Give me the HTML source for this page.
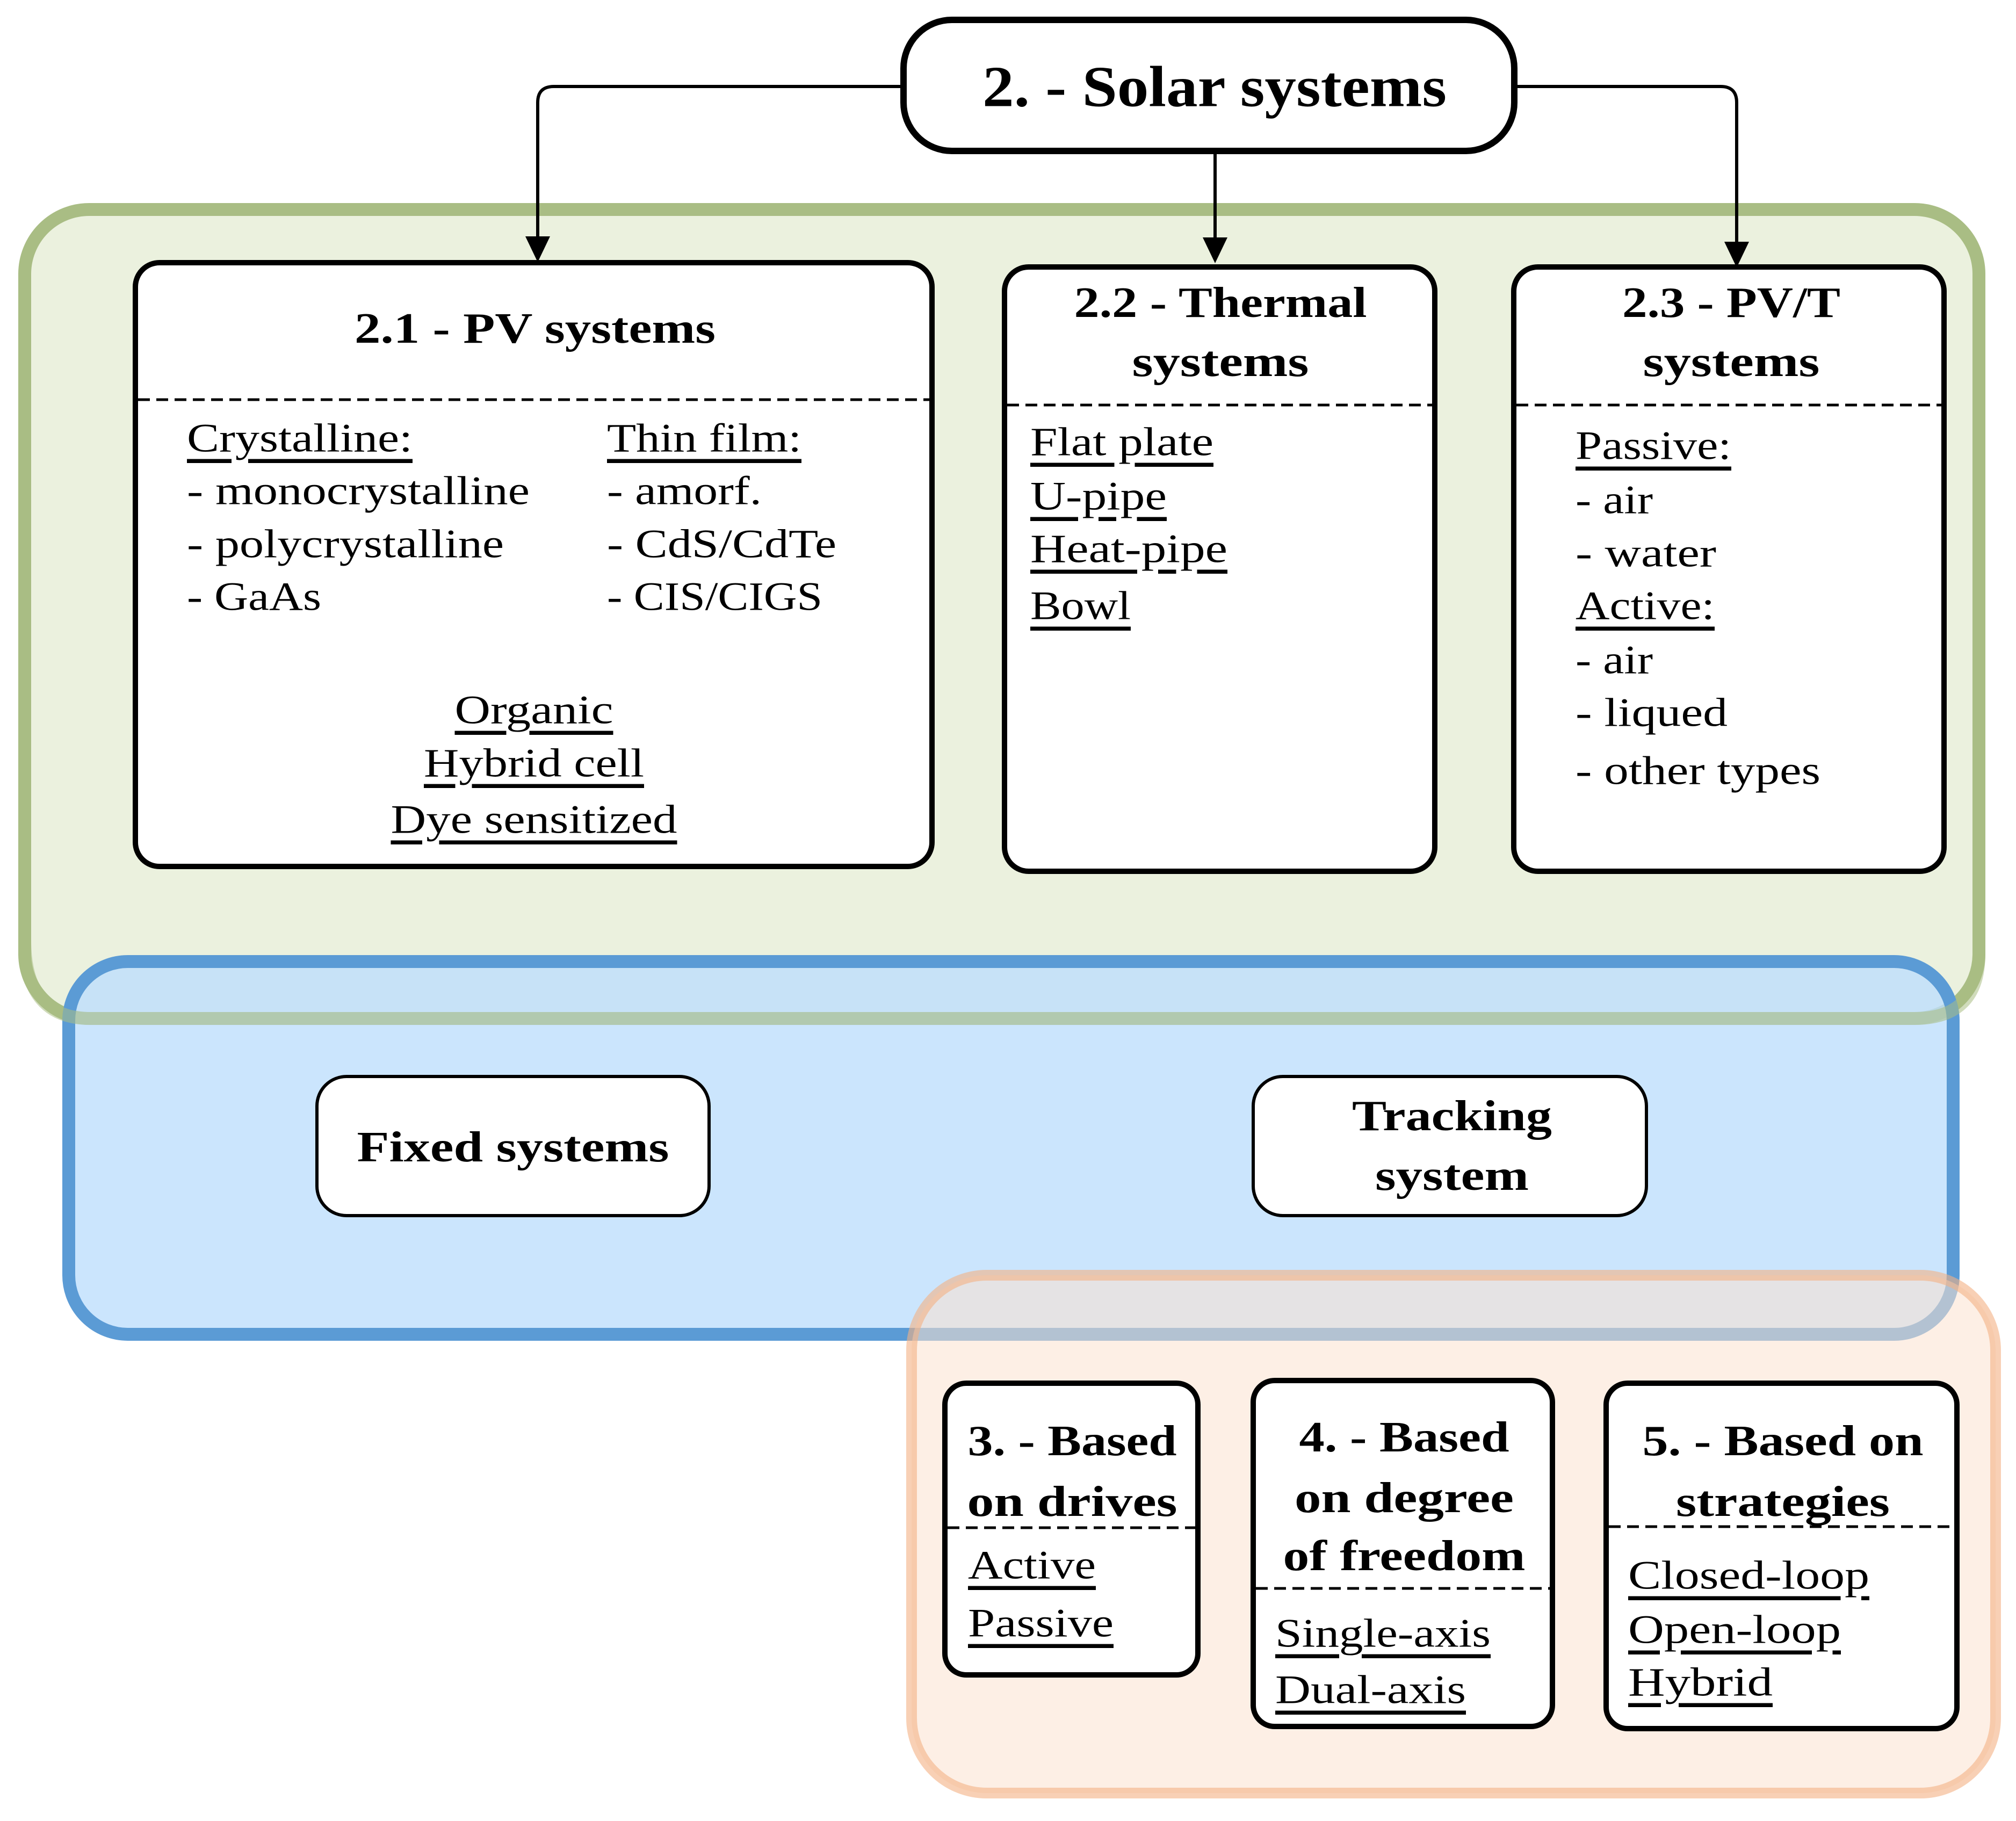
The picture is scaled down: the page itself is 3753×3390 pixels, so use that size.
<!DOCTYPE html>
<html><head><meta charset="utf-8"><style>
html,body{margin:0;padding:0;background:#fff;}
svg{display:block;}
text{font-family:"Liberation Serif",serif;fill:#000;}
.b{font-weight:bold;font-size:80px;}
.t{font-size:75px;}
.u{text-decoration:underline;}
</style></head><body>
<svg width="3753" height="3390" viewBox="0 0 3753 3390" xmlns="http://www.w3.org/2000/svg">
<!-- green container -->
<rect x="46" y="390" width="3638" height="1506" rx="120" fill="#ebf1de" stroke="#a9bd84" stroke-width="24"/>
<!-- blue container -->
<rect x="128" y="1790" width="3508" height="694" rx="110" fill="rgba(190,222,252,0.8)" stroke="#5b9bd5" stroke-width="24"/>
<path d="M46,1750 Q46,1896 168,1896 L3564,1896 Q3684,1896 3684,1776" fill="none" stroke="rgba(169,189,132,0.55)" stroke-width="24"/>
<!-- orange container -->
<rect x="1697" y="2374" width="2018" height="964" rx="140" fill="rgba(251,226,208,0.55)" stroke="rgba(244,177,131,0.6)" stroke-width="20"/>

<!-- connectors -->
<path d="M1676,161 L1031,161 Q1001,161 1001,191 L1001,440" fill="none" stroke="#000" stroke-width="6"/>
<path d="M2825,161 L3203,161 Q3233,161 3233,191 L3233,450" fill="none" stroke="#000" stroke-width="6"/>
<path d="M2262,287 L2262,445" fill="none" stroke="#000" stroke-width="6"/>
<path d="M978,440 L1024,440 L1001,488 Z"/>
<path d="M3210,450 L3256,450 L3233,498 Z"/>
<path d="M2239,442 L2285,442 L2262,490 Z"/>

<!-- title -->
<rect x="1682" y="37" width="1137" height="244" rx="90" fill="#fff" stroke="#000" stroke-width="12"/>
<text x="2261" y="162" font-size="108" font-weight="bold" text-anchor="middle" dominant-baseline="central" textLength="864" lengthAdjust="spacingAndGlyphs">2. - Solar systems</text>

<!-- PV box -->
<rect x="252" y="489" width="1483" height="1124" rx="45" fill="#fff" stroke="#000" stroke-width="10"/>
<text class="b" x="996" y="612" text-anchor="middle" dominant-baseline="central" textLength="672" lengthAdjust="spacingAndGlyphs">2.1 - PV systems</text>
<line x1="257" y1="744" x2="1730" y2="744" stroke="#000" stroke-width="5" stroke-dasharray="22,12"/>
<text class="t u" x="348" y="816" dominant-baseline="central" textLength="420" lengthAdjust="spacingAndGlyphs">Crystalline:</text>
<text class="t" x="348" y="914" dominant-baseline="central" textLength="638" lengthAdjust="spacingAndGlyphs">- monocrystalline</text>
<text class="t" x="348" y="1013" dominant-baseline="central" textLength="590" lengthAdjust="spacingAndGlyphs">- polycrystalline</text>
<text class="t" x="348" y="1111" dominant-baseline="central" textLength="250" lengthAdjust="spacingAndGlyphs">- GaAs</text>
<text class="t u" x="1130" y="816" dominant-baseline="central" textLength="362" lengthAdjust="spacingAndGlyphs">Thin film:</text>
<text class="t" x="1130" y="914" dominant-baseline="central" textLength="288" lengthAdjust="spacingAndGlyphs">- amorf.</text>
<text class="t" x="1130" y="1013" dominant-baseline="central" textLength="427" lengthAdjust="spacingAndGlyphs">- CdS/CdTe</text>
<text class="t" x="1130" y="1111" dominant-baseline="central" textLength="401" lengthAdjust="spacingAndGlyphs">- CIS/CIGS</text>
<text class="t u" x="994" y="1322" text-anchor="middle" dominant-baseline="central" textLength="295" lengthAdjust="spacingAndGlyphs">Organic</text>
<text class="t u" x="994" y="1421" text-anchor="middle" dominant-baseline="central" textLength="410" lengthAdjust="spacingAndGlyphs">Hybrid cell</text>
<text class="t u" x="994" y="1526" text-anchor="middle" dominant-baseline="central" textLength="533" lengthAdjust="spacingAndGlyphs">Dye sensitized</text>

<!-- Thermal box -->
<rect x="1870" y="497" width="801" height="1125" rx="45" fill="#fff" stroke="#000" stroke-width="10"/>
<text class="b" x="2272" y="564" text-anchor="middle" dominant-baseline="central" textLength="545" lengthAdjust="spacingAndGlyphs">2.2 - Thermal</text>
<text class="b" x="2272" y="674" text-anchor="middle" dominant-baseline="central" textLength="329" lengthAdjust="spacingAndGlyphs">systems</text>
<line x1="1875" y1="754" x2="2666" y2="754" stroke="#000" stroke-width="5" stroke-dasharray="22,12"/>
<text class="t u" x="1918" y="823" dominant-baseline="central" textLength="341" lengthAdjust="spacingAndGlyphs">Flat plate</text>
<text class="t u" x="1918" y="924" dominant-baseline="central" textLength="254" lengthAdjust="spacingAndGlyphs">U-pipe</text>
<text class="t u" x="1918" y="1022" dominant-baseline="central" textLength="367" lengthAdjust="spacingAndGlyphs">Heat-pipe</text>
<text class="t u" x="1918" y="1128" dominant-baseline="central" textLength="187" lengthAdjust="spacingAndGlyphs">Bowl</text>

<!-- PV/T box -->
<rect x="2818" y="497" width="801" height="1125" rx="45" fill="#fff" stroke="#000" stroke-width="10"/>
<text class="b" x="3223" y="564" text-anchor="middle" dominant-baseline="central" textLength="406" lengthAdjust="spacingAndGlyphs">2.3 - PV/T</text>
<text class="b" x="3223" y="674" text-anchor="middle" dominant-baseline="central" textLength="329" lengthAdjust="spacingAndGlyphs">systems</text>
<line x1="2823" y1="754" x2="3614" y2="754" stroke="#000" stroke-width="5" stroke-dasharray="22,12"/>
<text class="t u" x="2933" y="830" dominant-baseline="central" textLength="290" lengthAdjust="spacingAndGlyphs">Passive:</text>
<text class="t" x="2933" y="931" dominant-baseline="central" textLength="144" lengthAdjust="spacingAndGlyphs">- air</text>
<text class="t" x="2933" y="1030" dominant-baseline="central" textLength="262" lengthAdjust="spacingAndGlyphs">- water</text>
<text class="t u" x="2933" y="1128" dominant-baseline="central" textLength="259" lengthAdjust="spacingAndGlyphs">Active:</text>
<text class="t" x="2933" y="1229" dominant-baseline="central" textLength="144" lengthAdjust="spacingAndGlyphs">- air</text>
<text class="t" x="2933" y="1327" dominant-baseline="central" textLength="283" lengthAdjust="spacingAndGlyphs">- liqued</text>
<text class="t" x="2933" y="1435" dominant-baseline="central" textLength="456" lengthAdjust="spacingAndGlyphs">- other types</text>

<!-- Fixed / Tracking -->
<rect x="590" y="2004" width="730" height="259" rx="55" fill="#fff" stroke="#000" stroke-width="6"/>
<text class="b" x="955" y="2136" text-anchor="middle" dominant-baseline="central" textLength="581" lengthAdjust="spacingAndGlyphs">Fixed systems</text>
<rect x="2333" y="2004" width="732" height="259" rx="55" fill="#fff" stroke="#000" stroke-width="6"/>
<text class="b" x="2703" y="2078" text-anchor="middle" dominant-baseline="central" textLength="372" lengthAdjust="spacingAndGlyphs">Tracking</text>
<text class="b" x="2703" y="2189" text-anchor="middle" dominant-baseline="central" textLength="286" lengthAdjust="spacingAndGlyphs">system</text>

<!-- Box 3 -->
<rect x="1759" y="2575" width="471" height="543" rx="40" fill="#fff" stroke="#000" stroke-width="10"/>
<text class="b" x="1996" y="2683" text-anchor="middle" dominant-baseline="central" textLength="389" lengthAdjust="spacingAndGlyphs">3. - Based</text>
<text class="b" x="1996" y="2796" text-anchor="middle" dominant-baseline="central" textLength="391" lengthAdjust="spacingAndGlyphs">on drives</text>
<line x1="1764" y1="2844" x2="2230" y2="2844" stroke="#000" stroke-width="5" stroke-dasharray="22,12"/>
<text class="t u" x="1802" y="2914" dominant-baseline="central" textLength="238" lengthAdjust="spacingAndGlyphs">Active</text>
<text class="t u" x="1802" y="3022" dominant-baseline="central" textLength="271" lengthAdjust="spacingAndGlyphs">Passive</text>

<!-- Box 4 -->
<rect x="2333" y="2570" width="557" height="644" rx="40" fill="#fff" stroke="#000" stroke-width="10"/>
<text class="b" x="2614" y="2676" text-anchor="middle" dominant-baseline="central" textLength="391" lengthAdjust="spacingAndGlyphs">4. - Based</text>
<text class="b" x="2614" y="2789" text-anchor="middle" dominant-baseline="central" textLength="408" lengthAdjust="spacingAndGlyphs">on degree</text>
<text class="b" x="2614" y="2897" text-anchor="middle" dominant-baseline="central" textLength="451" lengthAdjust="spacingAndGlyphs">of freedom</text>
<line x1="2338" y1="2957" x2="2885" y2="2957" stroke="#000" stroke-width="5" stroke-dasharray="22,12"/>
<text class="t u" x="2374" y="3041" dominant-baseline="central" textLength="401" lengthAdjust="spacingAndGlyphs">Single-axis</text>
<text class="t u" x="2374" y="3146" dominant-baseline="central" textLength="355" lengthAdjust="spacingAndGlyphs">Dual-axis</text>

<!-- Box 5 -->
<rect x="2990" y="2575" width="653" height="643" rx="40" fill="#fff" stroke="#000" stroke-width="10"/>
<text class="b" x="3319" y="2683" text-anchor="middle" dominant-baseline="central" textLength="523" lengthAdjust="spacingAndGlyphs">5. - Based on</text>
<text class="b" x="3319" y="2796" text-anchor="middle" dominant-baseline="central" textLength="398" lengthAdjust="spacingAndGlyphs">strategies</text>
<line x1="2995" y1="2842" x2="3638" y2="2842" stroke="#000" stroke-width="5" stroke-dasharray="22,12"/>
<text class="t u" x="3031" y="2933" dominant-baseline="central" textLength="449" lengthAdjust="spacingAndGlyphs">Closed-loop</text>
<text class="t u" x="3031" y="3034" dominant-baseline="central" textLength="396" lengthAdjust="spacingAndGlyphs">Open-loop</text>
<text class="t u" x="3031" y="3132" dominant-baseline="central" textLength="269" lengthAdjust="spacingAndGlyphs">Hybrid</text>
</svg>
</body></html>
